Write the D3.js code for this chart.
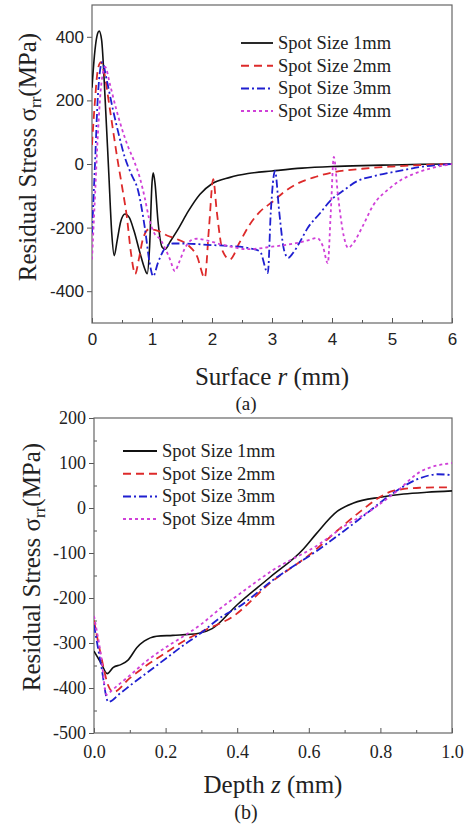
<!DOCTYPE html>
<html><head><meta charset="utf-8">
<script src="https://cdn.jsdelivr.net/npm/d3@7"></script>
<style>body{margin:0;background:#fff}svg{display:block}</style>
</head><body>
<svg id="c" width="465" height="826"></svg>
<script>
// ---------- DATA (a) surface ----------
const seriesNames = ["Spot Size 1mm","Spot Size 2mm","Spot Size 3mm","Spot Size 4mm"];
const surfR1 = [0,0.04,0.08,0.12,0.16,0.22,0.28,0.33,0.37,0.42,0.48,0.55,0.62,0.7,0.8,0.88,0.92,0.96,1.0,1.02,1.05,1.1,1.17,1.22,1.3,1.45,1.6,1.8,2.0,2.3,2.6,3.0,3.5,4.0,4.5,5.0,5.5,6.0];
const surfV1 = [240,340,400,418,390,200,-30,-220,-288,-240,-180,-157,-168,-210,-280,-330,-345,-260,-60,-28,-60,-180,-262,-268,-245,-200,-150,-95,-62,-42,-30,-22,-13,-8,-5,-3,-1,0];
const surfR2 = [0,0.05,0.1,0.15,0.2,0.3,0.42,0.5,0.58,0.65,0.72,0.78,0.85,0.95,1.1,1.25,1.4,1.6,1.75,1.88,1.95,2.02,2.08,2.18,2.3,2.45,2.63,2.8,3.02,3.2,3.4,3.7,4.0,4.5,5.0,5.5,6.0];
const surfV2 = [60,200,300,320,290,170,20,-70,-165,-280,-346,-300,-235,-205,-210,-225,-235,-255,-290,-358,-200,-48,-150,-275,-300,-250,-190,-150,-117,-88,-64,-42,-27,-15,-8,-3,0];
const surfR3 = [0,0.05,0.1,0.17,0.25,0.35,0.45,0.55,0.65,0.77,0.88,0.96,1.02,1.1,1.22,1.35,1.5,2.0,2.3,2.6,2.8,2.93,2.98,3.05,3.12,3.2,3.27,3.35,3.45,3.6,3.8,3.97,4.2,4.42,4.7,4.97,5.25,5.52,5.8,6.0];
const surfV3 = [-220,0,220,320,260,170,90,19,-30,-85,-200,-310,-353,-310,-264,-250,-250,-255,-258,-264,-275,-343,-150,-22,-150,-270,-295,-280,-250,-200,-155,-116,-82,-54,-38,-27,-17,-8,-3,0];
const surfR4 = [0,0.05,0.1,0.16,0.22,0.3,0.4,0.5,0.6,0.7,0.8,0.88,0.95,1.02,1.15,1.3,1.38,1.45,1.55,1.65,1.75,1.9,2.2,2.6,3.0,3.4,3.6,3.75,3.85,3.93,3.98,4.03,4.1,4.2,4.27,4.35,4.5,4.68,4.97,5.15,5.35,5.68,6.0];
const surfV4 = [-300,-100,100,260,305,250,175,110,55,10,-45,-107,-170,-211,-240,-300,-337,-310,-264,-240,-235,-240,-255,-268,-260,-249,-240,-233,-260,-312,-150,22,-100,-230,-264,-250,-200,-132,-75,-50,-32,-12,0];
const surfXTicks = [0,1,2,3,4,5,6];
const surfYTicks = [-400,-200,0,200,400];

// ---------- DATA (b) depth ----------
const depZ1 = [0,0.02,0.037,0.054,0.075,0.095,0.12,0.14,0.175,0.22,0.29,0.33,0.4,0.49,0.585,0.62,0.68,0.725,0.8,0.865,0.93,1.0];
const depV1 = [-318,-345,-368,-354,-348,-338,-310,-296,-285,-283,-279,-268,-215,-155,-91,-58,-7,11,24,31,35,38];
const depZ2 = [0,0.02,0.04,0.054,0.1,0.15,0.2,0.25,0.3,0.39,0.49,0.61,0.68,0.745,0.8,0.835,0.91,1.0];
const depV2 = [-250,-330,-395,-409,-378,-348,-322,-296,-275,-240,-168,-99,-50,-7,25,38,45,46];
const depZ3 = [0,0.02,0.04,0.073,0.1,0.15,0.2,0.25,0.29,0.36,0.4,0.5,0.63,0.7,0.76,0.835,0.91,0.96,1.0];
const depV3 = [-260,-350,-431,-412,-395,-365,-335,-305,-283,-240,-222,-160,-91,-50,-13,33,66,75,73];
const depZ4 = [0,0.02,0.035,0.05,0.1,0.15,0.2,0.25,0.3,0.35,0.4,0.5,0.63,0.7,0.77,0.85,0.91,1.0];
const depV4 = [-240,-330,-415,-405,-372,-338,-310,-285,-258,-225,-195,-138,-80,-40,-7,40,80,100];
const depXTicks = [0,0.2,0.4,0.6,0.8,1.0];
const depYTicks = [-500,-400,-300,-200,-100,0,100,200];

// ---------- STYLE ----------
const colors = ["#111111","#dd2a2a","#1f1fd0","#d040d8"];
const dashes = [null,"8,5","8,3,2,3","3,3"];
const SERIF = '"Liberation Serif", "Times New Roman", serif';
const SANS = '"Liberation Sans", Arial, sans-serif';
const svg = d3.select("#c");

function panel(o){
  const g = svg.append("g");
  const x = d3.scaleLinear().domain(o.xd).range([o.L,o.R]);
  const y = d3.scaleLinear().domain(o.yd).range([o.B,o.T]);
  const ax = g.append("g").attr("transform",`translate(0,${o.B})`)
    .call(d3.axisBottom(x).tickValues(o.xMinor).tickSize(-3).tickFormat(""));
  ax.select(".domain").remove(); ax.selectAll("line").attr("stroke","#555");
  const ax2 = g.append("g").attr("transform",`translate(0,${o.B})`)
    .call(d3.axisBottom(x).tickValues(o.xTicks).tickSize(-5).tickPadding(o.xPad).tickFormat(o.xFmt));
  ax2.select(".domain").remove(); ax2.selectAll("line").attr("stroke","#555");
  ax2.selectAll("text").style("font-family",o.tickFont).style("font-size",o.tickSize+"px").attr("fill","#222");
  if(o.yMinor){
    const ay0 = g.append("g").attr("transform",`translate(${o.L},0)`)
      .call(d3.axisLeft(y).tickValues(o.yMinor).tickSize(-3).tickFormat(""));
    ay0.select(".domain").remove(); ay0.selectAll("line").attr("stroke","#555");
  }
  const ay = g.append("g").attr("transform",`translate(${o.L},0)`)
    .call(d3.axisLeft(y).tickValues(o.yTicks).tickSize(5).tickPadding(3).tickFormat(d=>String(d)));
  ay.select(".domain").remove(); ay.selectAll("line").attr("stroke","#555");
  ay.selectAll("text").style("font-family",o.tickFont).style("font-size",o.tickSize+"px").attr("fill","#222");
  g.append("rect").attr("x",o.L).attr("y",o.T).attr("width",o.R-o.L).attr("height",o.B-o.T)
    .attr("fill","none").attr("stroke","#666").attr("stroke-width",1.2);
  const clipId = "clip"+o.id;
  svg.append("clipPath").attr("id",clipId).append("rect").attr("x",o.L).attr("y",o.T).attr("width",o.R-o.L).attr("height",o.B-o.T);
  const line = d3.line().x(d=>x(d[0])).y(d=>y(d[1])).curve(d3.curveMonotoneX);
  o.series.forEach((s,i)=>{
    const pts = s[0].map((v,k)=>[v,s[1][k]]);
    g.append("path").attr("d",line(pts)).attr("fill","none").attr("stroke",colors[i])
      .attr("stroke-width",i===0?1.6:1.8).attr("stroke-dasharray",dashes[i]).attr("clip-path",`url(#${clipId})`);
  });
  seriesNames.forEach((n,i)=>{
    const yy = o.legY + i*22.7;
    g.append("line").attr("x1",o.legX).attr("x2",o.legX+o.legW).attr("y1",yy).attr("y2",yy)
      .attr("stroke",colors[i]).attr("stroke-width",i===0?1.8:2).attr("stroke-dasharray",dashes[i]);
    g.append("text").attr("x",o.legX+o.legW+5).attr("y",yy+6).text(n)
      .style("font-family",SERIF).style("font-size","18.5px").attr("fill","#222");
  });
  const yt = g.append("text").attr("transform",`translate(${o.ytX},${o.ytY}) rotate(-90)`)
    .attr("text-anchor","middle").style("font-family",SERIF).style("font-size","25px").attr("fill","#222");
  yt.append("tspan").text("Residual Stress \u03c3");
  yt.append("tspan").text("rr").style("font-size","17px").attr("dy",5);
  yt.append("tspan").text("(MPa)").attr("dy",-5);
  const xt = g.append("text").attr("x",(o.L+o.R)/2).attr("y",o.xtY).attr("text-anchor","middle")
    .style("font-family",SERIF).style("font-size","25px").attr("fill","#222");
  xt.append("tspan").text(o.xTitle[0]+" ");
  xt.append("tspan").text(o.xTitle[1]).style("font-style","italic");
  xt.append("tspan").text(" (mm)");
  g.append("text").attr("x",246).attr("y",o.capY).attr("text-anchor","middle")
    .style("font-family",SERIF).style("font-size",o.capSize+"px").attr("fill","#222").text(o.cap);
}

panel({id:"a",L:92,R:452,T:5,B:323,xd:[0,6],yd:[-500,500],
  xTicks:surfXTicks,xMinor:[0.5,1.5,2.5,3.5,4.5,5.5],xFmt:d3.format("d"),xPad:10,
  yTicks:surfYTicks,yMinor:null,tickFont:SANS,tickSize:17,
  series:[[surfR1,surfV1],[surfR2,surfV2],[surfR3,surfV3],[surfR4,surfV4]],
  legX:241,legW:32,legY:43,ytX:36,ytY:157,xtY:385,xTitle:["Surface","r"],capY:410,capSize:19,cap:"(a)"});

panel({id:"b",L:94,R:452,T:418,B:733,xd:[0,1],yd:[-500,200],
  xTicks:depXTicks,xMinor:[0.1,0.3,0.5,0.7,0.9],xFmt:d3.format(".1f"),xPad:12,
  yTicks:depYTicks,yMinor:[-450,-350,-250,-150,-50,50,150],tickFont:SERIF,tickSize:18,
  series:[[depZ1,depV1],[depZ2,depV2],[depZ3,depV3],[depZ4,depV4]],
  legX:123,legW:34,legY:451,ytX:40,ytY:567,xtY:793,xTitle:["Depth","z"],capY:819,capSize:20,cap:"(b)"});
</script>
</body></html>
